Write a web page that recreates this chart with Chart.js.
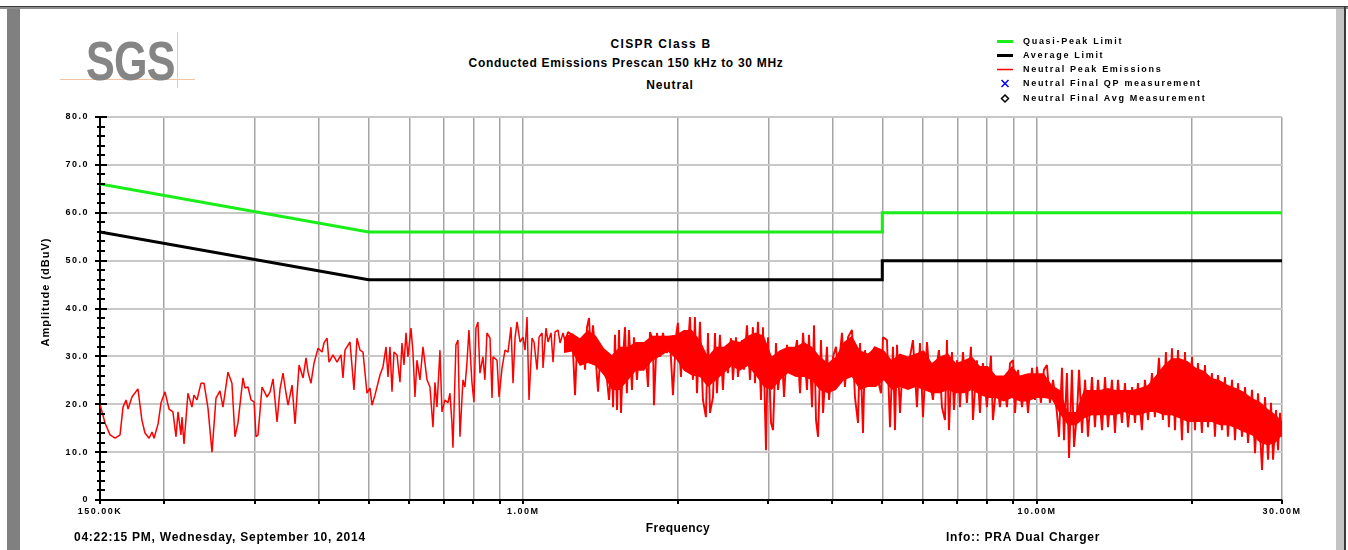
<!DOCTYPE html>
<html>
<head>
<meta charset="utf-8">
<title>CISPR Class B - Neutral</title>
<script src="https://cdn.jsdelivr.net/npm/chart.js@4.4.0/dist/chart.umd.min.js"></script>
<style>
  body { margin: 0; background: #fff; font-family: "Liberation Sans", Arial, sans-serif; }
  #page { position: relative; width: 1348px; height: 550px; overflow: hidden; background: #fff; }
  #plot { position: absolute; left: 0; top: 0; }
  .txt { position: absolute; font-weight: bold; color: #000; white-space: nowrap; line-height: 14px; }
  .center { width: 600px; text-align: center; }
  .box { position: absolute; }
</style>
</head>
<body>
<div id="page">
  <!-- window frame -->
  <div class="box" style="left:0;top:6px;width:1348px;height:1px;background:#3a3a3a"></div>
  <div class="box" style="left:0;top:7px;width:1348px;height:2px;background:#8c8c8c"></div>
  <div class="box" style="left:7px;top:9px;width:13px;height:541px;background:#808080"></div>
  <div class="box" style="left:1336px;top:9px;width:8px;height:541px;background:#c4c4c4"></div>
  <div class="box" style="left:1344px;top:6px;width:2px;height:544px;background:#3a3a3a"></div>

  <!-- logo -->
  <div class="box" style="left:60px;top:79px;width:135px;height:1px;background:#f2c4a4"></div>
  <div class="box" style="left:177px;top:32px;width:1px;height:56px;background:#f2c4a4"></div>
  <div class="txt" style="left:86px;top:33px;font-size:56px;line-height:56px;color:#858585;transform:scaleX(0.77);transform-origin:left top;letter-spacing:-1px">SGS</div>

  <!-- titles -->
  <div class="txt center" style="left:361px;top:37px;font-size:12px;letter-spacing:1.3px">CISPR Class B</div>
  <div class="txt center" style="left:326px;top:56px;font-size:12px;letter-spacing:0.7px">Conducted Emissions Prescan 150 kHz to 30 MHz</div>
  <div class="txt center" style="left:370px;top:78px;font-size:12px;letter-spacing:0.9px">Neutral</div>

  <canvas id="plot" width="1348" height="550"></canvas>

  <!-- axis titles and footer -->
  <div class="txt" style="left:-55px;top:285px;width:200px;text-align:center;font-size:11px;letter-spacing:1px;transform:rotate(-90deg)">Amplitude (dBuV)</div>
  <div class="txt" style="left:578px;top:521px;width:200px;text-align:center;font-size:12px;letter-spacing:0.4px">Frequency</div>
  <div class="txt" style="left:74px;top:530px;font-size:12px;letter-spacing:0.75px">04:22:15 PM, Wednesday, September 10, 2014</div>
  <div class="txt" style="left:946px;top:530px;font-size:12px;letter-spacing:0.75px">Info:: PRA Dual Charger</div>
</div>

<script>
// frequencies in MHz, levels in dBuV
const qpFreq = [0.15, 0.5, 5, 5, 30];
const qpLimit = [66, 56, 56, 60, 60];
const avgFreq = [0.15, 0.5, 5, 5, 30];
const avgLimit = [56, 46, 46, 50, 50];

const peakFreq = [
  0.150,0.1534,0.1569,0.1605,0.1641,0.1663,0.1686,0.1701,0.1731,0.1778,
  0.1810,0.1835,0.1869,0.1894,0.1911,0.1946,0.1972,0.2007,0.2044,0.2080,
  0.2109,0.2128,0.2156,0.2166,0.2186,0.2225,0.2265,0.2286,0.2317,0.2359,
  0.2391,0.2434,0.2478,0.2523,0.2568,0.2603,0.2662,0.2710,0.2747,0.2784,
  0.2847,0.2873,0.2912,0.2952,0.2992,0.3019,0.3046,0.3101,0.3172,0.3215,
  0.3258,0.3317,0.3362,0.3407,0.3453,0.3485,0.3548,0.3596,0.3661,0.3727,
  0.3777,0.3811,0.3862,0.3915,0.3986,0.4058,0.4094,0.4150,0.4187,0.4263,
  0.4340,0.4418,0.4458,0.4498,0.4600,0.4683,0.4747,0.4811,0.4876,0.4964,
  0.5032,0.5077,0.5145,0.5262,0.5333,0.5406,0.5454,0.5503,0.5553,0.5603,
  0.5679,0.5755,0.5807,0.5859,0.5912,0.5965,0.6046,0.6100,0.6155,0.6211,
  0.6295,0.6380,0.6438,0.6495,0.6583,0.6673,0.6733,0.6793,0.6885,0.6947,
  0.7041,0.7136,0.7200,0.7265,0.7298,0.7396,0.7463,0.7531,0.7633,0.7701,
  0.7770,0.7840,0.7946,0.8018,0.8090,0.8163,0.8236,0.8348,0.8423,0.8499,
  0.8617,0.8695,0.8734,0.8892,0.8972,0.9094,0.9217,0.9341,0.9467,0.9553,
  0.9639,0.9726,0.9858,0.9990,1.0081,1.0172,1.0263,1.0402,1.0496,1.0638,
  1.0734,1.0879,1.0928,1.1076,1.1176,1.1327,1.1429,1.1532,1.1688,1.1794,
  1.1953,1.2061,1.2224,1.2445,1.2501,1.2614,1.2727,1.2899,1.3073,1.3192,
  1.3311,1.3430,1.3551,1.3672,1.3858,1.3983,1.4172,1.4300,1.4558,1.4689,
  1.4888,1.4955,1.5089,1.5226,1.5363,1.5501,1.5641,1.5782,1.5914,1.6064,
  1.6282,1.6428,1.6650,1.6800,1.7028,1.7258,1.7492,1.7650,1.7888,1.7968,
  1.8212,1.8458,1.8708,1.9046,1.9304,1.9566,1.9830,2.000,2.028,2.046,
  2.083,2.111,2.140,2.159,2.179,2.208,2.238,2.268,2.289,2.310,
  2.341,2.362,2.383,2.415,2.448,2.470,2.503,2.537,2.560,2.595,
  2.618,2.666,2.690,2.726,2.763,2.800,2.826,2.864,2.903,2.929,
  2.969,2.996,3.037,3.064,3.105,3.133,3.190,3.219,3.262,3.307,
  3.351,3.412,3.458,3.505,3.568,3.600,3.649,3.682,3.715,3.749,
  3.799,3.834,3.902,3.938,4.009,4.063,4.100,4.174,4.230,4.288,
  4.365,4.424,4.484,4.525,4.586,4.627,4.690,4.775,4.839,4.904,
  4.971,5.016,5.106,5.176,5.245,5.293,5.341,5.413,5.486,5.585,
  5.661,5.737,5.841,5.920,6.000,6.109,6.191,6.275,6.360,6.446,
  6.533,6.622,6.681,6.742,6.833,6.894,6.987,7.050,7.082,7.178,
  7.308,7.440,7.507,7.642,7.746,7.850,7.993,8.138,8.210,8.359,
  8.472,8.591,8.745,8.864,8.984,9.065,9.187,9.354,9.481,9.609,
  9.783,9.915,10.00,10.18,10.32,10.46,10.60,10.75,10.94,11.04,
  11.19,11.29,11.44,11.55,11.70,11.81,11.97,12.08,12.24,12.41,
  12.57,12.80,12.97,13.15,13.39,13.57,13.75,14.00,14.19,14.38,
  14.64,14.84,15.04,15.32,15.52,15.73,16.01,16.23,16.45,16.75,
  16.97,17.28,17.59,17.83,18.07,18.32,18.57,18.82,19.16,19.42,
  19.68,20.04,20.31,20.58,20.95,21.24,21.53,21.91,22.21,22.51,
  22.92,23.23,23.54,23.98,24.30,24.63,25.08,25.42,25.76,26.23,
  26.58,26.94,27.43,27.80,28.18,28.56,28.82,29.21,29.47,29.73,
  30.00
];
const peakLevel = [
  20.0,16.1,13.6,12.9,13.6,19.4,20.9,19.0,21.5,23.2,
  16.7,14.0,12.9,14.2,12.9,15.9,20.3,22.6,19.0,18.4,
  13.2,18.4,13.6,17.3,11.7,22.3,19.4,21.9,20.9,24.4,
  24.4,19.2,10.0,21.3,22.8,19.4,26.7,24.4,13.2,16.1,
  25.5,23.4,23.6,20.9,20.5,13.2,13.6,23.6,21.5,22.6,
  25.3,16.3,23.2,26.5,22.3,19.8,24.0,15.9,28.2,25.5,
  29.7,26.7,24.4,28.6,31.7,30.9,32.8,33.8,28.8,30.3,
  28.8,30.3,25.5,31.3,33.0,23.0,33.8,31.3,30.9,22.3,
  23.4,19.8,21.9,26.1,27.8,32.0,25.7,32.0,22.6,30.9,
  30.3,24.6,32.8,28.2,34.9,29.9,35.9,30.9,21.5,29.2,
  25.1,32.0,28.6,25.1,23.6,15.2,24.6,19.4,31.3,18.4,
  20.9,20.3,22.3,16.1,10.9,32.4,33.4,13.2,25.1,23.6,
  28.6,35.5,24.6,20.5,35.9,37.2,26.5,29.9,25.1,34.9,
  33.8,21.3,29.9,29.2,21.5,27.6,31.3,30.9,36.1,24.4,
  33.8,37.2,33.0,34.0,31.3,38.2,20.9,33.8,33.0,27.2,
  34.0,34.9,27.6,35.9,33.0,34.9,28.8,35.1,35.5,32.8,
  34.9,33.0,35.1,34.5,30.9,21.9,32.4,29.2,33.8,27.2,
  36.1,38.0,29.9,36.5,28.6,22.6,32.0,27.8,25.1,20.9,
  29.9,19.4,34.5,18.8,35.5,18.2,29.9,36.1,22.3,35.5,
  23.0,34.0,25.1,31.3,27.8,32.8,23.6,35.1,33.4,19.8,
  34.9,29.9,34.9,30.7,33.4,21.9,34.0,37.0,25.7,34.9,
  28.6,38.2,25.1,38.2,22.3,37.2,20.9,17.3,34.9,18.2,
  21.5,34.9,22.3,34.5,23.0,30.9,26.5,33.8,25.1,34.0,
  25.7,33.4,27.2,36.5,25.1,36.1,24.4,37.2,20.9,36.1,
  10.4,34.0,16.1,14.6,32.8,23.0,29.9,21.5,32.4,27.8,
  28.6,33.4,22.3,34.9,23.0,34.5,19.4,36.5,16.7,13.2,
  33.4,18.2,32.0,20.9,29.9,32.0,26.5,34.9,23.6,34.0,
  35.5,21.5,16.1,32.8,14.0,31.3,25.1,30.9,32.0,25.1,
  22.3,34.0,33.4,15.2,32.0,14.6,32.4,18.2,29.2,23.6,
  29.9,33.4,19.4,32.8,17.3,33.0,25.1,20.9,27.2,31.3,
  19.4,16.7,33.4,14.6,30.9,18.8,29.2,25.1,19.4,30.9,
  20.3,32.0,16.7,29.2,18.2,28.6,19.4,30.1,16.7,25.1,
  19.4,25.7,19.4,28.6,29.2,18.2,27.2,19.4,25.7,18.2,
  27.6,20.9,27.8,20.3,27.2,28.2,20.3,25.1,18.2,13.2,
  27.6,12.5,26.5,8.8,27.2,11.1,18.2,27.2,14.0,25.1,
  13.2,25.7,15.2,25.1,14.6,25.7,15.2,25.1,14.0,25.1,
  16.1,24.4,15.2,23.6,16.1,24.4,14.6,25.1,16.7,26.5,
  17.3,29.7,16.7,30.9,15.2,31.7,14.6,31.3,12.5,30.9,
  14.0,29.9,14.6,28.6,14.0,28.2,15.2,26.5,13.2,26.1,
  14.6,25.7,13.2,25.1,12.5,24.4,13.2,23.6,11.9,23.0,
  9.8,22.3,6.3,21.5,8.4,20.3,8.4,18.8,10.4,18.2,
  13.2
];

// above ~1.2 MHz the sweep points pack so tight that the trace turns into a
// solid band; these are the lower and upper edges of that band
const bandFreq = [
  1.200, 1.244, 1.289, 1.336, 1.385, 1.436, 1.488, 1.542, 1.599, 1.657,
  1.718, 1.780, 1.845, 1.913, 1.982, 2.055, 2.130, 2.208, 2.288, 2.372,
  2.458, 2.548, 2.641, 2.737, 2.837, 2.941, 3.048, 3.160, 3.275, 3.395,
  3.519, 3.647, 3.780, 3.918, 4.061, 4.209, 4.363, 4.522, 4.687, 4.859,
  5.036, 5.220, 5.410, 5.608, 5.813, 6.025, 6.245, 6.473, 6.709, 6.954,
  7.208, 7.471, 7.744, 8.026, 8.319, 8.623, 8.938, 9.264, 9.602, 9.953,
  10.32, 10.69, 11.08, 11.49, 11.91, 12.34, 12.79, 13.26, 13.74, 14.25,
  14.77, 15.31, 15.86, 16.44, 17.04, 17.67, 18.31, 18.98, 19.67, 20.39,
  21.13, 21.91, 22.71, 23.53, 24.39, 25.28, 26.21, 27.16, 28.16, 29.18,
  30.00
];
const bandHigh = [
  34.0, 34.9, 33.8, 35.5, 34.3, 31.7, 30.3, 32.0, 32.0, 33.0,
  33.0, 34.3, 34.3, 34.3, 34.5, 35.5, 35.5, 33.4, 30.0, 32.0,
  32.0, 33.4, 33.0, 34.3, 35.0, 34.3, 30.0, 31.3, 32.0, 32.0,
  33.0, 32.0, 30.0, 28.6, 30.0, 33.0, 34.3, 31.3, 30.6, 32.0,
  31.3, 29.2, 30.6, 30.0, 30.6, 31.3, 28.6, 30.0, 30.6, 28.6,
  29.2, 30.0, 28.0, 28.0, 26.0, 26.0, 28.0, 26.0, 26.5, 26.5,
  26.5, 24.0, 23.0, 18.4, 18.4, 23.0, 23.0, 23.0, 23.4, 23.0,
  23.0, 23.0, 23.4, 24.0, 26.0, 28.2, 29.6, 29.6, 29.0, 27.6,
  27.0, 25.5, 25.0, 24.0, 23.4, 22.6, 21.3, 20.5, 19.0, 17.8,
  16.4
];
const bandLow = [
  30.7, 31.0, 28.0, 28.6, 28.0, 26.0, 23.0, 23.0, 25.0, 27.0,
  27.0, 29.0, 30.0, 31.0, 29.5, 27.0, 26.0, 25.7, 23.6, 25.0,
  26.5, 28.0, 27.0, 28.0, 26.0, 23.6, 23.0, 25.0, 26.5, 25.7,
  25.7, 25.0, 23.0, 22.3, 23.0, 25.0, 25.7, 23.0, 23.6, 23.6,
  25.0, 23.0, 23.6, 23.0, 23.6, 23.0, 22.3, 22.3, 23.0, 22.3,
  22.3, 23.0, 22.0, 21.3, 21.3, 20.6, 21.3, 20.6, 20.6, 21.3,
  21.3, 21.0, 18.0, 15.6, 15.6, 17.0, 17.7, 17.7, 17.7, 17.7,
  18.4, 17.7, 17.7, 18.4, 18.4, 17.7, 17.7, 17.0, 16.3, 16.3,
  16.3, 16.3, 15.6, 15.6, 15.0, 14.2, 13.5, 12.0, 11.4, 12.0,
  13.5
];

// axis ticks
const gridFreqs = [0.15, 0.2, 0.3, 0.4, 0.5, 0.6, 0.7, 0.8, 0.9,
                   1, 2, 3, 4, 5, 6, 7, 8, 9, 10, 20, 30];
const xLabelFreqs = [0.15, 1, 10, 30];
const xLabelTexts = ['150.00K', '1.00M', '10.00M', '30.00M'];
const yMin = 0, yMax = 80, yMajorStep = 10, yMinorStep = 2;

const traceRed = '#ff0000';
const packedFrom = 1.2;

const toPoints = (xs, ys) => xs.map((x, i) => ({ x: x, y: ys[i] }));

// small tick marks crossing the y axis and hanging below the x axis
const axisMarks = {
  id: 'axisMarks',
  afterDraw(chart) {
    const { ctx, chartArea, scales } = chart;
    ctx.save();
    ctx.strokeStyle = '#000';
    ctx.lineWidth = 2;
    ctx.beginPath();
    for (let v = yMin; v <= yMax; v += yMinorStep) {
      const py = Math.round(scales.y.getPixelForValue(v));
      const major = v % yMajorStep === 0;
      ctx.moveTo(chartArea.left - (major ? 5 : 3), py);
      ctx.lineTo(chartArea.left + (major ? 7 : 5), py);
    }
    gridFreqs.forEach(f => {
      const px = Math.round(scales.x.getPixelForValue(f));
      ctx.moveTo(px, chartArea.bottom);
      ctx.lineTo(px, chartArea.bottom + 4);
    });
    ctx.stroke();
    ctx.restore();
  }
};

// legend block in the top right corner
const sideLegend = {
  id: 'sideLegend',
  afterDraw(chart) {
    const ctx = chart.ctx;
    ctx.save();
    ctx.font = 'bold 9px "Liberation Sans", Arial, sans-serif';
    ctx.letterSpacing = '1.7px';
    ctx.textBaseline = 'middle';
    chart.data.datasets.filter(ds => ds.label).forEach((ds, i) => {
      const yy = Math.round(40.5 + i * 14.3) + 0.5;
      const cx = 1005;
      if (ds.pointStyle === 'crossRot') {
        ctx.strokeStyle = ds.pointBorderColor;
        ctx.lineWidth = 1.5;
        ctx.beginPath();
        ctx.moveTo(cx - 3.5, yy - 3.5); ctx.lineTo(cx + 3.5, yy + 3.5);
        ctx.moveTo(cx + 3.5, yy - 3.5); ctx.lineTo(cx - 3.5, yy + 3.5);
        ctx.stroke();
      } else if (ds.pointStyle === 'rectRot') {
        ctx.strokeStyle = ds.pointBorderColor;
        ctx.fillStyle = '#fff';
        ctx.lineWidth = 1.5;
        ctx.beginPath();
        ctx.moveTo(cx, yy - 3.5); ctx.lineTo(cx + 3.5, yy);
        ctx.lineTo(cx, yy + 3.5); ctx.lineTo(cx - 3.5, yy);
        ctx.closePath();
        ctx.fill();
        ctx.stroke();
      } else {
        ctx.strokeStyle = ds.borderColor;
        ctx.lineWidth = ds.borderWidth;
        ctx.beginPath();
        ctx.moveTo(997, yy); ctx.lineTo(1013, yy);
        ctx.stroke();
      }
      ctx.fillStyle = '#000';
      ctx.fillText(ds.label, 1023, yy);
    });
    ctx.restore();
  }
};

const tickFont = { family: '"Liberation Sans", Arial, sans-serif', size: 9, weight: 'bold' };

new Chart(document.getElementById('plot'), {
  type: 'line',
  data: {
    datasets: [
      {
        label: 'Quasi-Peak Limit',
        data: toPoints(qpFreq, qpLimit),
        borderColor: '#19ee19',
        borderWidth: 3,
        pointRadius: 0
      },
      {
        label: 'Average Limit',
        data: toPoints(avgFreq, avgLimit),
        borderColor: '#000000',
        borderWidth: 3,
        pointRadius: 0
      },
      {
        label: 'Neutral Peak Emissions',
        data: toPoints(peakFreq, peakLevel),
        borderColor: traceRed,
        borderWidth: 1.5,
        borderJoinStyle: 'bevel',
        pointRadius: 0,
        segment: {
          borderWidth: c => (c.p0.parsed.x >= packedFrom ? 1.9 : 1.5)
        }
      },
      {
        label: 'Neutral Final QP measurement',
        data: [],
        showLine: false,
        pointStyle: 'crossRot',
        pointBorderColor: '#0000ff',
        pointRadius: 4
      },
      {
        label: 'Neutral Final Avg Measurement',
        data: [],
        showLine: false,
        pointStyle: 'rectRot',
        pointBorderColor: '#000000',
        pointBackgroundColor: '#ffffff',
        pointRadius: 4
      },
      // packed part of the sweep, filled between its two edges
      {
        data: toPoints(bandFreq, bandHigh),
        borderWidth: 0,
        pointRadius: 0,
        backgroundColor: traceRed,
        fill: '+1'
      },
      {
        data: toPoints(bandFreq, bandLow),
        borderWidth: 0,
        pointRadius: 0,
        fill: false
      }
    ]
  },
  options: {
    responsive: false,
    animation: false,
    devicePixelRatio: 1,
    layout: { padding: { left: 0, top: 117, right: 66, bottom: 0 } },
    plugins: {
      legend: { display: false },
      tooltip: { enabled: false }
    },
    elements: { line: { tension: 0 } },
    scales: {
      x: {
        type: 'logarithmic',
        min: 0.15,
        max: 30,
        afterBuildTicks: axis => { axis.ticks = gridFreqs.map(v => ({ value: v })); },
        afterFit: axis => { axis.height = 50; },
        ticks: {
          autoSkip: false,
          maxRotation: 0,
          minRotation: 0,
          padding: 6,
          color: '#000',
          font: tickFont,
          callback: v => {
            const i = xLabelFreqs.indexOf(v);
            return i < 0 ? '' : xLabelTexts[i];
          }
        },
        grid: { color: '#a4a4a4', lineWidth: 1.5, drawTicks: false },
        border: { color: '#000', width: 2 }
      },
      y: {
        min: yMin,
        max: yMax,
        afterFit: axis => { axis.width = 100; },
        ticks: {
          stepSize: yMajorStep,
          padding: 11,
          color: '#000',
          font: tickFont,
          callback: v => (v === 0 ? '0' : v.toFixed(1))
        },
        grid: { color: '#c8c8c8', lineWidth: 2, drawTicks: false },
        border: { color: '#000', width: 2 }
      }
    }
  },
  plugins: [
    {
      id: 'spacedText',
      beforeDraw(chart) { chart.ctx.letterSpacing = '1.5px'; }
    },
    axisMarks,
    sideLegend
  ]
});
</script>
</body>
</html>
